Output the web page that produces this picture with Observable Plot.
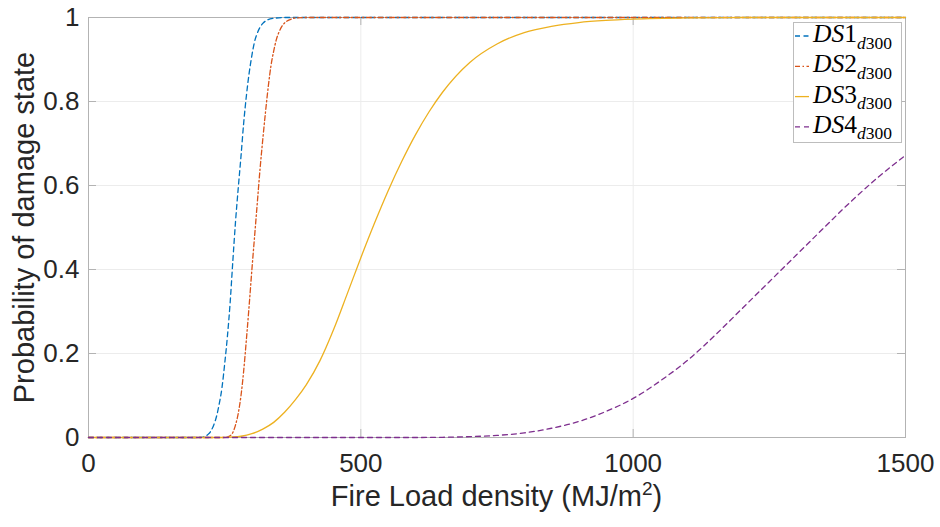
<!DOCTYPE html>
<html><head><meta charset="utf-8">
<script src="https://cdn.jsdelivr.net/npm/d3@7"></script>
<script src="https://cdn.jsdelivr.net/npm/@observablehq/plot@0.6"></script>
<style>
html,body{margin:0;padding:0;background:#fff;}
#chart{width:940px;height:527px;}
</style></head><body><div id="chart"></div>
<script>
// ---- data ----
const seriesNames = ["DS1", "DS2", "DS3", "DS4"];
const seriesSub = ["d", "300"];
const seriesColors = ["#0072BD", "#D95319", "#EDB120", "#7E2F8E"];
const seriesDash = ["5,3.5", "5,2.5,1.5,2.5", null, "5,4"];

const ds1X = [0, 200, 210, 215, 220, 225, 230, 235, 240, 245, 250, 255, 260, 265, 270, 275, 280, 285, 290, 295, 300, 305, 310, 315, 320, 330, 340, 360, 1500];
const ds1Y = [0, 0, 0.001, 0.003, 0.008, 0.016, 0.03, 0.05, 0.08, 0.118, 0.175, 0.24, 0.32, 0.42, 0.515, 0.595, 0.67, 0.75, 0.815, 0.868, 0.91, 0.943, 0.963, 0.977, 0.986, 0.995, 0.998, 1, 1];

const ds2X = [0, 250, 255, 260, 265, 270, 275, 280, 285, 290, 295, 300, 305, 310, 315, 320, 325, 330, 335, 340, 345, 350, 355, 360, 370, 380, 400, 1500];
const ds2Y = [0, 0, 0.001, 0.004, 0.012, 0.03, 0.058, 0.1, 0.16, 0.235, 0.315, 0.4, 0.48, 0.56, 0.64, 0.71, 0.775, 0.835, 0.885, 0.92, 0.948, 0.966, 0.979, 0.987, 0.995, 0.999, 1, 1];

const ds3X = [0, 240, 260, 280, 300, 320, 340, 360, 380, 400, 425, 450, 475, 500, 525, 550, 575, 600, 625, 650, 700, 750, 800, 850, 900, 950, 1000, 1100, 1200, 1500];
const ds3Y = [0, 0, 0.001, 0.003, 0.009, 0.02, 0.036, 0.06, 0.09, 0.126, 0.183, 0.257, 0.342, 0.428, 0.51, 0.587, 0.657, 0.72, 0.775, 0.822, 0.893, 0.937, 0.964, 0.979, 0.988, 0.993, 0.996, 0.999, 1, 1];

const ds4X = [0, 600, 650, 700, 750, 800, 850, 900, 950, 1000, 1050, 1100, 1150, 1200, 1250, 1300, 1350, 1400, 1450, 1500];
const ds4Y = [0, 0, 0.0005, 0.002, 0.005, 0.011, 0.022, 0.038, 0.062, 0.093, 0.135, 0.184, 0.243, 0.307, 0.371, 0.435, 0.499, 0.562, 0.62, 0.672];

const xTicks = [0, 500, 1000, 1500];
const xTickLabels = ["0", "500", "1000", "1500"];
const yTicks = [0, 0.2, 0.4, 0.6, 0.8, 1];
const yTickLabels = ["0", "0.2", "0.4", "0.6", "0.8", "1"];
const xInnerTicks = [500, 1000];
const yInnerTicks = [0.2, 0.4, 0.6, 0.8];
const xLabelMain = "Fire Load density (MJ/m";
const xLabelSup = "2";
const xLabelEnd = ")";
const yLabel = "Probability of damage state";

// ---- build ----
const seriesXs = [ds1X, ds2X, ds3X, ds4X];
const seriesYs = [ds1Y, ds2Y, ds3Y, ds4Y];
const seriesData = seriesNames.map((name, i) => seriesXs[i].map((x, j) => ({series: name, x, y: seriesYs[i][j]})));

const W = 940, H = 527;
const mL = 88, mR = 35, mT = 17, mB = 90;
const plotW = W - mL - mR, plotH = H - mT - mB;
const axisGray = "#b3b3b3";
const gridGray = "#ececec";
const textCol = "#262626";
const sans = "'Liberation Sans', Arial, Helvetica, sans-serif";
const serif = "'Liberation Serif', 'Times New Roman', serif";

const lineMarks = seriesData.map((d, i) => Plot.line(d, {
  x: "x", y: "y", stroke: seriesColors[i], strokeWidth: 1.3,
  strokeDasharray: seriesDash[i] ?? undefined, curve: "monotone-x"
}));

const chart = Plot.plot({
  width: W, height: H,
  marginLeft: mL, marginRight: mR, marginTop: mT, marginBottom: mB,
  style: {fontFamily: sans, background: "white", color: textCol, overflow: "visible"},
  x: {domain: [0, 1500]},
  y: {domain: [0, 1]},
  marks: [
    Plot.gridX(xTicks, {stroke: gridGray, strokeOpacity: 1}),
    Plot.gridY(yTicks, {stroke: gridGray, strokeOpacity: 1}),
    Plot.axisX(xTicks, {tickSize: 0, tickPadding: 16, fontSize: 26, fill: textCol, label: null,
      tickFormat: (d) => xTickLabels[xTicks.indexOf(d)]}),
    Plot.axisY(yTicks, {tickSize: 0, tickPadding: 9, fontSize: 26, fill: textCol, label: null,
      tickFormat: (d) => yTickLabels[yTicks.indexOf(d)]}),
    Plot.frame({stroke: axisGray, strokeWidth: 1}),
    Plot.ruleX(xInnerTicks, {stroke: axisGray, insetTop: plotH - 8}),
    Plot.ruleX(xInnerTicks, {stroke: axisGray, insetBottom: plotH - 8}),
    Plot.ruleY(yInnerTicks, {stroke: axisGray, insetRight: plotW - 8}),
    Plot.ruleY(yInnerTicks, {stroke: axisGray, insetLeft: plotW - 8}),
    ...lineMarks,
    Plot.text([yLabel], {text: (d) => d, frameAnchor: "left", rotate: -90, dx: 33.5 - mL,
      lineAnchor: "bottom", textAnchor: "middle", fontSize: 29, fill: textCol})
  ]
});
document.getElementById("chart").appendChild(chart);

// x-axis label with a real superscript
const svg = d3.select(chart);
const xs = chart.scale("x");
const xCenter = (xs.range[0] + xs.range[1]) / 2;
const xl = svg.append("text")
  .attr("x", xCenter).attr("y", 506)
  .attr("text-anchor", "middle")
  .attr("font-family", sans).attr("font-size", 29).attr("fill", textCol);
xl.append("tspan").text(xLabelMain);
xl.append("tspan").attr("dy", -11).attr("font-size", 19).text(xLabelSup);
xl.append("tspan").attr("dy", 11).text(xLabelEnd);

// legend box (top-right, inside the axes)
const lg = svg.append("g").attr("class", "legend").attr("text-anchor", "start");
const bx = 793, by = 22, bw = 108, bh = 120;
lg.append("rect").attr("x", bx + 0.5).attr("y", by + 0.5).attr("width", bw).attr("height", bh)
  .attr("fill", "white").attr("stroke", "#bdbdbd").attr("stroke-width", 1);
seriesNames.forEach((name, i) => {
  const yc = 36 + i * 30.3;
  lg.append("line").attr("x1", 795).attr("x2", 809).attr("y1", yc).attr("y2", yc)
    .attr("stroke", seriesColors[i]).attr("stroke-width", 1.3)
    .attr("stroke-dasharray", seriesDash[i] ?? null);
  const t = lg.append("text").attr("x", 813).attr("y", yc + 6)
    .attr("text-anchor", "start")
    .attr("font-family", serif).attr("font-size", 25.5).attr("fill", "#000");
  t.append("tspan").attr("font-style", "italic").text(name.slice(0, 2));
  t.append("tspan").text(name.slice(2));
  t.append("tspan").attr("font-size", 17.5).attr("font-style", "italic").attr("dy", 6.5).text(seriesSub[0]);
  t.append("tspan").attr("font-size", 17.5).text(seriesSub[1]);
});
</script>
</body></html>
